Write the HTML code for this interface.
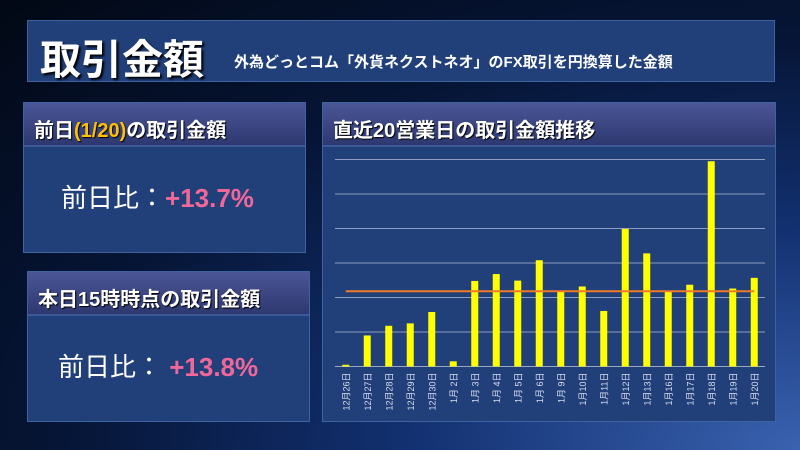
<!DOCTYPE html>
<html><head><meta charset="utf-8"><style>
*{margin:0;padding:0;box-sizing:border-box}
body{width:800px;height:450px;overflow:hidden;position:relative;font-family:"Liberation Sans","Noto Sans CJK JP",sans-serif;
background:radial-gradient(ellipse at 100% 100%,#3a62b0 0%,#123070 35%,#061536 65%,#020814 100%);}
.box{position:absolute;background:#213f78;border:1px solid #3f63a0;}
.hdr{position:absolute;left:0;right:0;top:0;height:44px;background:linear-gradient(#4a5696,#2e3870);border-bottom:2px solid #3c5a98;color:#fff;font-weight:bold;font-size:20px;padding:11px 0 0 10px;text-shadow:1px 1px 1px #000}
.val{position:absolute;color:#fff;font-size:26px;}
.val b{color:#f0679a}
</style></head><body>
<div class="box" style="left:27px;top:20px;width:748px;height:62px;background:#213f78;">
 <span style="position:absolute;left:12px;top:5px;font-size:41px;font-weight:bold;color:#fff;text-shadow:2px 2px 2px #000">取引金額</span>
 <span style="position:absolute;left:206px;top:30px;font-size:15px;font-weight:bold;color:#fff">外為どっとコム「外貨ネクストネオ」のFX取引を円換算した金額</span>
</div>
<div class="box" style="left:23px;top:102px;width:283px;height:151px">
 <div class="hdr">前日<span style="color:#ffc000">(1/20)</span>の取引金額</div>
 <div class="val" style="left:37px;top:75px">前日比：<b>+13.7%</b></div>
</div>
<div class="box" style="left:27px;top:271px;width:283px;height:151px">
 <div class="hdr">本日15時時点の取引金額</div>
 <div class="val" style="left:30px;top:75px">前日比： <b>+13.8%</b></div>
</div>
<div class="box" style="left:322px;top:102px;width:454px;height:320px">
 <div class="hdr">直近20営業日の取引金額推移</div>
</div>
<svg id="chart" width="800" height="450" style="position:absolute;left:0;top:0"></svg>
<script>
const categories=["12月26日","12月27日","12月28日","12月29日","12月30日","1月 2日","1月 3日","1月 4日","1月 5日","1月 6日","1月 9日","1月10日","1月11日","1月12日","1月13日","1月16日","1月17日","1月18日","1月19日","1月20日"];
const values=[0.05,0.90,1.18,1.25,1.58,0.15,2.48,2.68,2.49,3.08,2.18,2.32,1.61,3.99,3.28,2.18,2.37,5.95,2.26,2.57];
const averageValue=[2.18];
const yTicks=[0,1,2,3,4,5,6];
const NS="http://www.w3.org/2000/svg";
const svg=document.getElementById('chart');
const x0=335,x1=765,yB=366.5,yT=159.5,yMax=6;
const band=(x1-x0)/categories.length;
const X=i=>x0+band*(i+0.5);
const Y=v=>yB-(yB-yT)*v/yMax;
function mk(t,a){const e=document.createElementNS(NS,t);for(const k in a)e.setAttribute(k,a[k]);svg.appendChild(e);return e;}
yTicks.forEach(t=>{
 const l=mk('line',{x1:x0,x2:x1,y1:Y(t),y2:Y(t),stroke:t===0?'#9aa8c4':'#8d9cc0','stroke-width':1});
 
 
});
values.forEach((v,i)=>{
 const r=mk('rect',{x:X(i)-3.5,y:Y(v),width:7,height:yB-Y(v),fill:'#ffff00'});
 
 
 const tx=X(i)+3.5,ty=yB+6;
 const t=mk('text',{x:tx,y:ty,fill:'#d8def0','font-size':9,transform:`rotate(-90 ${tx} ${ty})`,'text-anchor':'end'});
 t.textContent=categories[i];
 
 
});
const avg=mk('line',{x1:X(0),x2:X(categories.length-1),y1:Y(averageValue[0]),y2:Y(averageValue[0]),stroke:'#f07a28','stroke-width':2});


</script>
</body></html>
